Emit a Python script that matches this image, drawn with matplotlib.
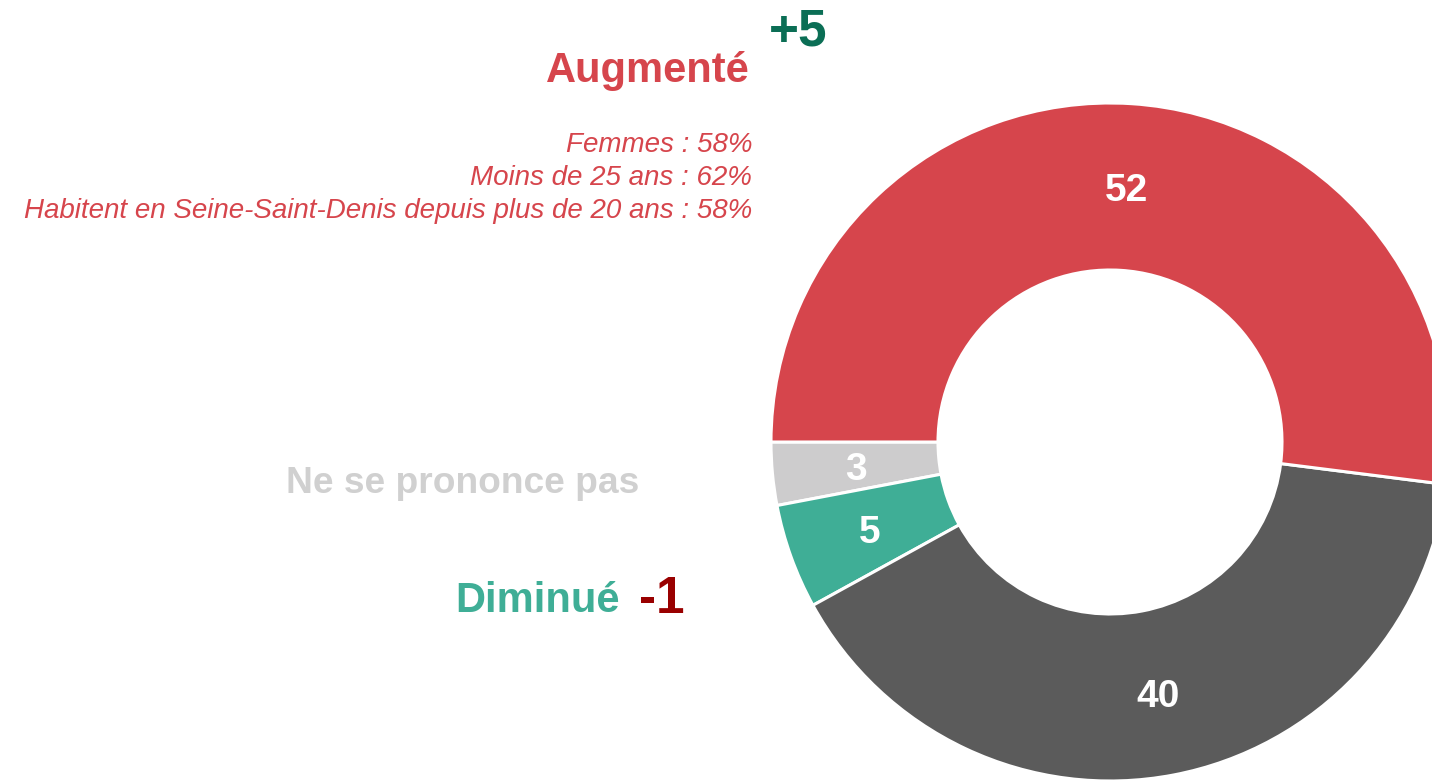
import matplotlib
matplotlib.use("Agg")
import matplotlib.pyplot as plt

plt.rcParams['font.family'] = ['Liberation Sans', 'DejaVu Sans']

# donut data: order counter-clockwise starting from the left (180 deg)
categories = ['Ne se prononce pas', 'Diminué', 'Stable', 'Augmenté']
values = [3, 5, 40, 52]
colors = ['#CDCCCD', '#3FAE96', '#5B5B5B', '#D6454C']

augmente_details = ['Femmes : 58%',
                    'Moins de 25 ans : 62%',
                    'Habitent en Seine-Saint-Denis depuis plus de 20 ans : 58%']
evol_augmente = '+5'
evol_diminue = '-1'

W, H = 1432, 781
fig = plt.figure(figsize=(W / 100, H / 100), dpi=100)
ax = fig.add_axes([0, 0, 1, 1])

# pixel coords (from top) -> data coords
def py(y):
    return H - y

R = 339
ring = 167
wedges, texts, autotexts = ax.pie(
    values, colors=colors, startangle=180, counterclock=True,
    radius=R, center=(1110, py(442)),
    autopct='%.0f', pctdistance=(R - ring / 2) / R,
    wedgeprops=dict(width=ring, edgecolor='white', linewidth=2.2),
    textprops=dict(color='white', fontsize=28, fontweight='bold'))
for t in autotexts:
    t.set_va('center_baseline')

ax.set_xlim(0, W)
ax.set_ylim(0, H)
ax.set_aspect('equal')
ax.axis('off')

# Augmenté block
ax.text(750, py(82), 'Augmenté', color='#D6454C', fontsize=30, fontweight='bold',
        ha='right', va='baseline')
ax.text(769, py(46), evol_augmente, color='#0B6E55', fontsize=37, fontweight='bold',
        ha='left', va='baseline')
for i, line in enumerate(augmente_details):
    ax.text(752, py(152 + 33 * i), line, color='#D6454C', fontsize=20, style='italic',
            ha='right', va='baseline')

# Ne se prononce pas
ax.text(286, py(493), 'Ne se prononce pas', color='#D0D0D0', fontsize=26.7,
        fontweight='bold', ha='left', va='baseline')

# Diminué
ax.text(620, py(612), 'Diminué', color='#3FAE96', fontsize=30, fontweight='bold',
        ha='right', va='baseline')
ax.text(639, py(613), evol_diminue, color='#990000', fontsize=37, fontweight='bold',
        ha='left', va='baseline')

fig.savefig('out.png', dpi=100)
